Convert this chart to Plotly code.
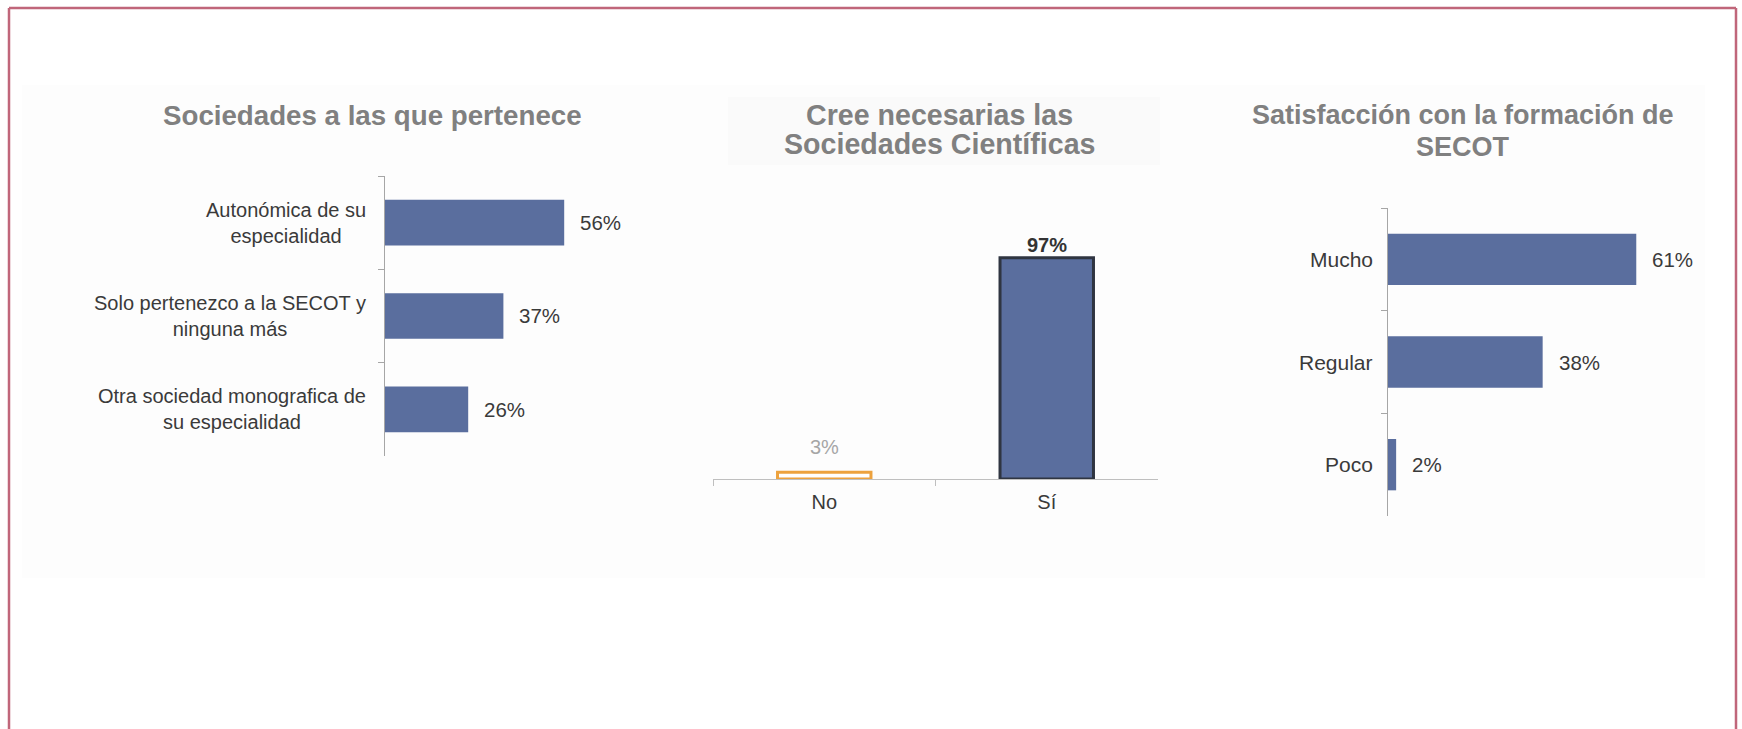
import plotly.graph_objects as go

W, H = 1742, 729
FONT = "Arial, 'Liberation Sans', sans-serif"
BLUE = "#5A6E9E"
TXT = "#3A3A3A"
TITLE_C = "#808080"
AXIS_C = "#A6A6A6"

# ---------------- data ----------------
soc_cats = ["Autonómica de su<br>especialidad",
            "Solo pertenezco a la SECOT y<br>ninguna más",
            "Otra sociedad monografica de<br>su especialidad"]
soc_vals = [56, 37, 26]

nec_cats = ["No", "Sí"]
nec_vals = [3, 97]

sat_cats = ["Mucho", "Regular", "Poco"]
sat_vals = [61, 38, 2]

titles = {
    "soc": ["Sociedades a las que pertenece"],
    "nec": ["Cree necesarias las", "Sociedades Científicas"],
    "sat": ["Satisfacción con la formación de", "SECOT"],
}


def px(x):
    return x / W


def py(y):
    return 1 - y / H


fig = go.Figure()

# chart 1 : horizontal bars
fig.add_trace(go.Bar(x=soc_vals, y=soc_cats, orientation="h", xaxis="x", yaxis="y",
                     width=0.49, marker=dict(color=BLUE, line=dict(width=0)),
                     showlegend=False))
# chart 2 : vertical bars
fig.add_trace(go.Bar(x=nec_cats, y=nec_vals, xaxis="x2", yaxis="y2", width=0.42,
                     marker=dict(color=["#FFFFFF", BLUE],
                                 line=dict(color=["#EDA23E", "#2F3541"], width=[3, 3])),
                     showlegend=False))
# chart 3 : horizontal bars
fig.add_trace(go.Bar(x=sat_vals, y=sat_cats, orientation="h", xaxis="x3", yaxis="y3",
                     width=0.5, marker=dict(color=BLUE, line=dict(width=0)),
                     showlegend=False))

hidden = dict(visible=False, fixedrange=True)

fig.update_layout(
    width=W, height=H, margin=dict(l=0, r=0, t=0, b=0),
    paper_bgcolor="white", plot_bgcolor="rgba(0,0,0,0)",
    font=dict(family=FONT, color=TXT),
    xaxis=dict(domain=[px(385), px(385 + 90 * 3.2)], range=[0, 90], anchor="y", **hidden),
    yaxis=dict(domain=[py(456), py(176)], range=[2.5, -0.5], anchor="x",
               type="category", showline=True, linecolor=AXIS_C, linewidth=1.2,
               ticks="outside", tickson="boundaries", ticklen=6, tickcolor=AXIS_C,
               showticklabels=False, showgrid=False, zeroline=False, fixedrange=True),
    xaxis2=dict(domain=[px(713), px(1158)], range=[-0.5, 1.5], anchor="y2",
                type="category", showline=True, linecolor="#BFBFBF", linewidth=1.2,
                ticks="outside", tickson="boundaries", ticklen=6, tickcolor="#BFBFBF",
                ticklabelstandoff=5,
                tickfont=dict(family=FONT, size=20, color=TXT),
                showgrid=False, zeroline=False, fixedrange=True),
    yaxis2=dict(domain=[py(479), py(479 - 110 * 2.28)], range=[0, 110], anchor="x2", **hidden),
    xaxis3=dict(domain=[px(1388), px(1388 + 75 * 4.07)], range=[0, 75], anchor="y3", **hidden),
    yaxis3=dict(domain=[py(516), py(208)], range=[2.5, -0.5], anchor="x3",
                type="category", showline=True, linecolor=AXIS_C, linewidth=1.2,
                ticks="outside", tickson="boundaries", ticklen=6, tickcolor=AXIS_C,
                showticklabels=False, showgrid=False, zeroline=False, fixedrange=True),
)

ann = []
# category labels (centered multi-line, right-anchored next to axis)
for c in soc_cats:
    ann.append(dict(x=0, xref="x domain", y=c, yref="y", xanchor="right", yanchor="middle",
                    xshift=-17, align="center", showarrow=False, text=c,
                    font=dict(family=FONT, size=20, color=TXT)))
for c in sat_cats:
    ann.append(dict(x=0, xref="x3 domain", y=c, yref="y3", xanchor="right", yanchor="middle",
                    xshift=-13, align="right", showarrow=False, text=c,
                    font=dict(family=FONT, size=21, color=TXT)))
# value labels
for c, v in zip(soc_cats, soc_vals):
    ann.append(dict(x=v, xref="x", y=c, yref="y", xanchor="left", yanchor="middle",
                    xshift=14, showarrow=False, text=f"{v}%",
                    font=dict(family=FONT, size=20.5, color=TXT)))
for c, v in zip(sat_cats, sat_vals):
    ann.append(dict(x=v, xref="x3", y=c, yref="y3", xanchor="left", yanchor="middle",
                    xshift=14, showarrow=False, text=f"{v}%",
                    font=dict(family=FONT, size=20.5, color=TXT)))
# chart 2 value labels above bars
nec_label_style = [("#A6A6A6", False, 12), ("#333333", True, 0)]
for c, v, (col, bold, ys) in zip(nec_cats, nec_vals, nec_label_style):
    t = f"{v}%"
    ann.append(dict(x=c, xref="x2", y=v, yref="y2", xanchor="center", yanchor="bottom",
                    yshift=ys, showarrow=False, text=f"<b>{t}</b>" if bold else t,
                    font=dict(family=FONT, size=20, color=col)))

# titles
title_pos = {"soc": (372, [115], 27.7), "nec": (939, [115, 144], 28.6),
             "sat": (1463, [115, 147], 27)}
for k, lines in titles.items():
    cx, ys, fs = title_pos[k]
    for t, yy in zip(lines, ys):
        ann.append(dict(x=px(cx), y=py(yy), xref="paper", yref="paper", xanchor="center",
                        yanchor="middle", showarrow=False, text=f"<b>{t}</b>",
                        font=dict(family=FONT, size=fs, color=TITLE_C)))
fig.update_layout(annotations=ann)

BORDER = "#C0667A"
shapes = [
    dict(type="rect", xref="paper", yref="paper", x0=px(22), x1=px(1705), y0=py(578), y1=py(85),
         fillcolor="#FDFDFD", line=dict(width=0), layer="below"),
    dict(type="rect", xref="paper", yref="paper", x0=px(728), x1=px(1160), y0=py(165), y1=py(97),
         fillcolor="#FAFAFA", line=dict(width=0), layer="below"),
    dict(type="line", xref="paper", yref="paper", x0=px(9), x1=px(1736), y0=py(8), y1=py(8),
         line=dict(color=BORDER, width=2.5)),
    dict(type="line", xref="paper", yref="paper", x0=px(9), x1=px(9), y0=py(8), y1=py(740),
         line=dict(color=BORDER, width=2.5)),
    dict(type="line", xref="paper", yref="paper", x0=px(1736), x1=px(1736), y0=py(8), y1=py(740),
         line=dict(color=BORDER, width=2.5)),
]
fig.update_layout(shapes=shapes)

fig.write_html("out.html", config={"displayModeBar": False},
               post_script="document.body.style.margin='0';document.body.style.overflow='hidden';")
